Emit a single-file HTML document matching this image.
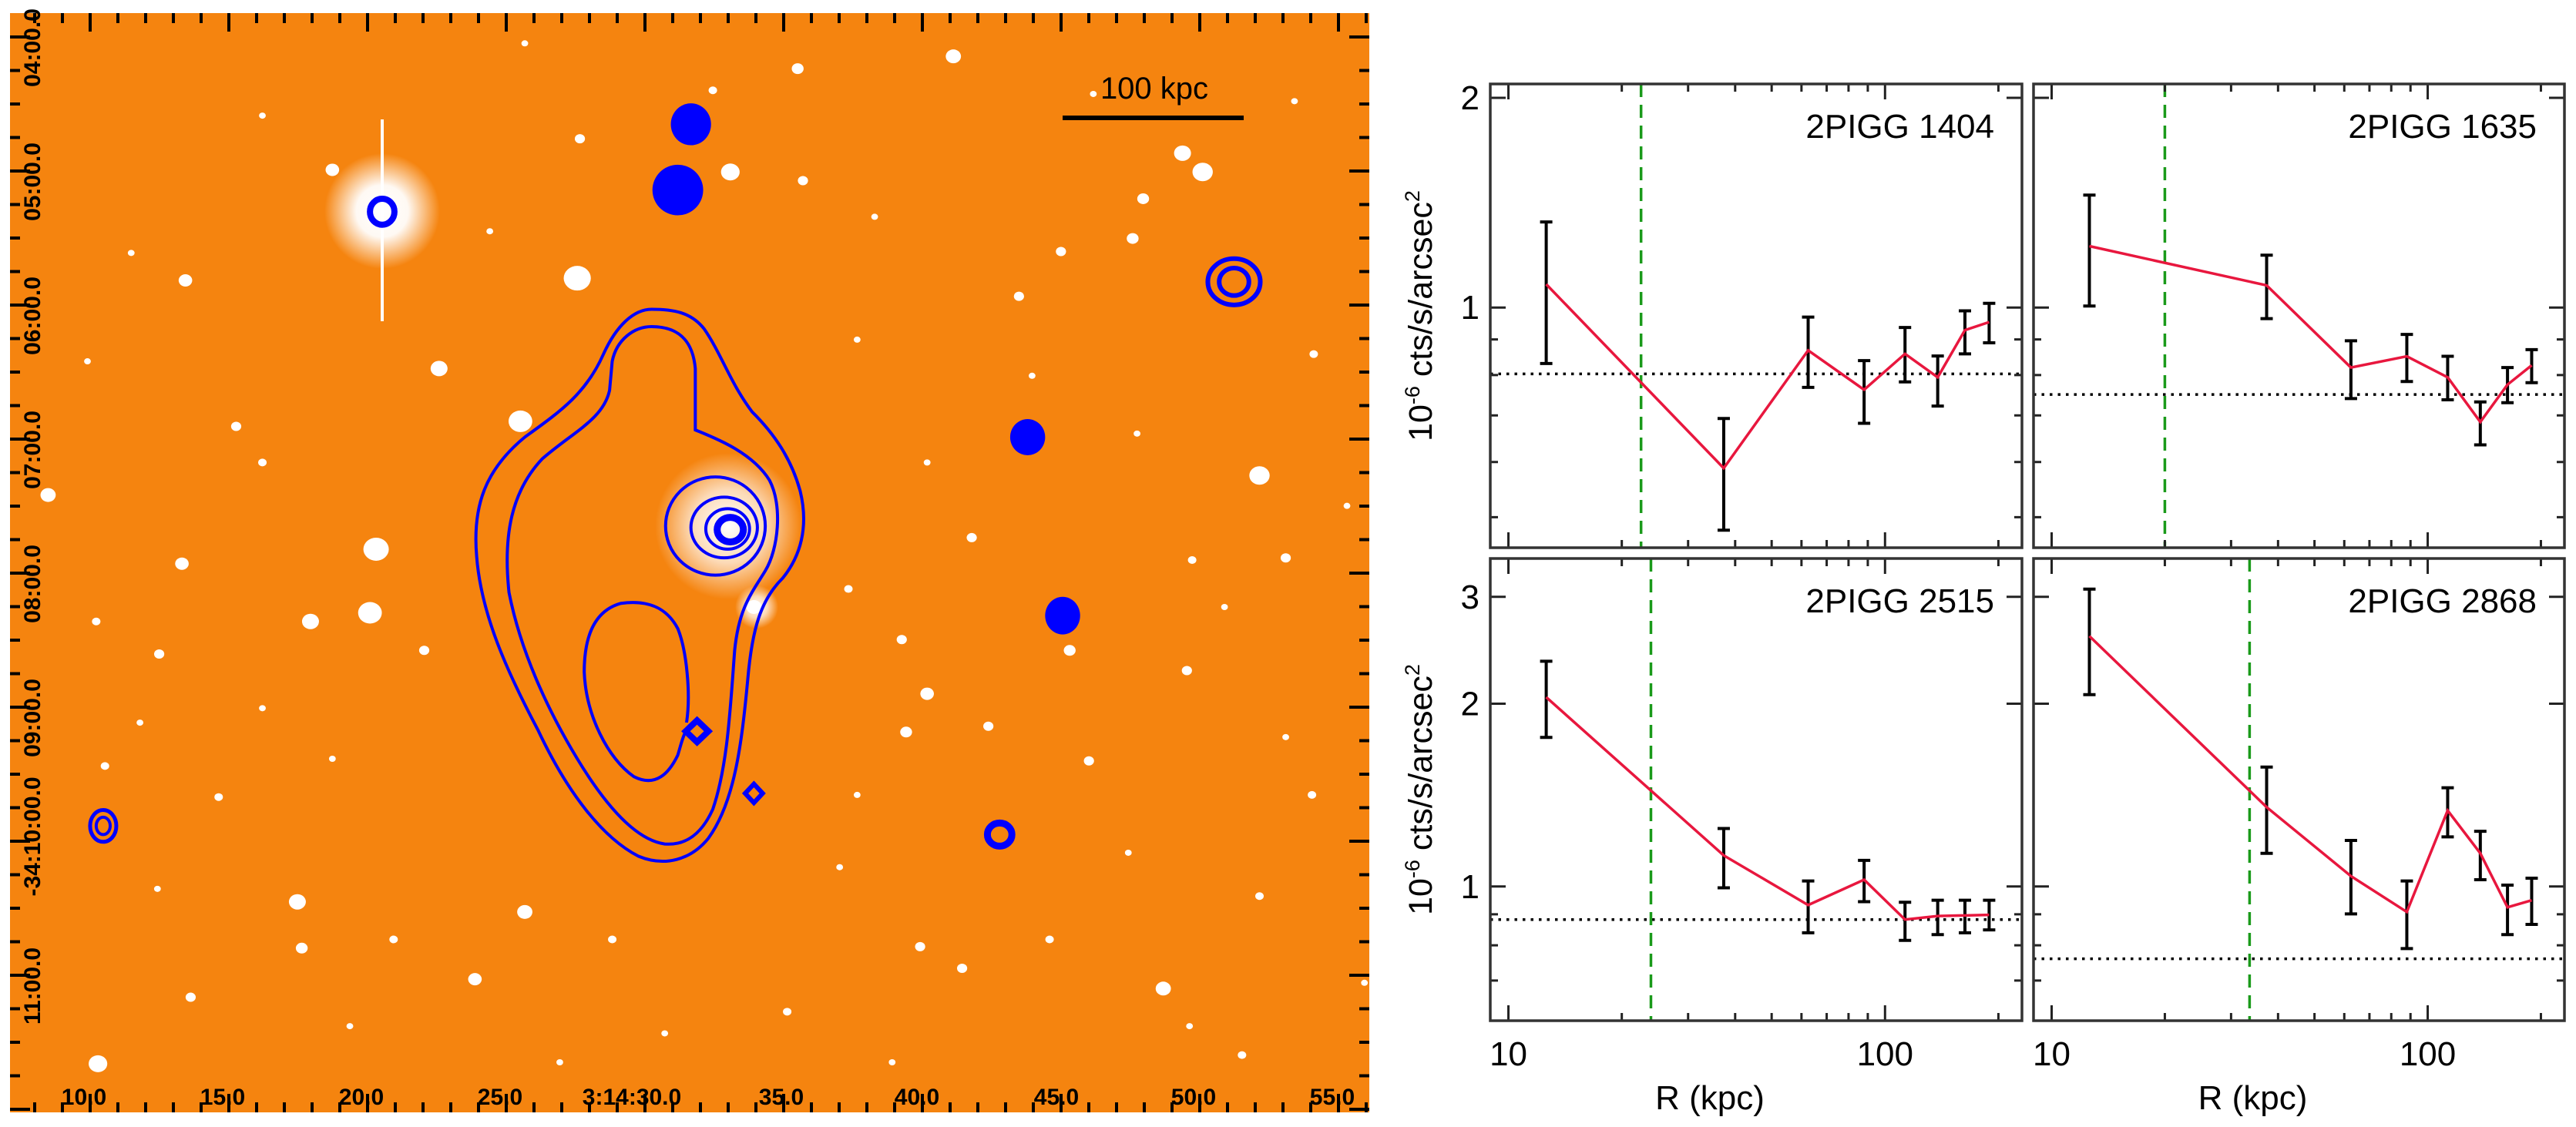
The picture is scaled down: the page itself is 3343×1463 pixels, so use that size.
<!DOCTYPE html>
<html><head><meta charset="utf-8"><style>
html,body{margin:0;padding:0;background:#fff;}
svg{display:block;font-family:"Liberation Sans",sans-serif;}
</style></head><body>
<svg id="fig" width="3343" height="1463" viewBox="0 0 3343 1463" xmlns="http://www.w3.org/2000/svg">
<defs>
<radialGradient id="glow"><stop offset="0" stop-color="#fff" stop-opacity="1"/><stop offset="0.45" stop-color="#fff" stop-opacity="0.95"/><stop offset="1" stop-color="#fff" stop-opacity="0"/></radialGradient>
<radialGradient id="glow2"><stop offset="0" stop-color="#fff" stop-opacity="1"/><stop offset="0.5" stop-color="#fff" stop-opacity="0.7"/><stop offset="1" stop-color="#fff" stop-opacity="0"/></radialGradient>
</defs>
<g>
<rect x="13" y="17" width="1764" height="1427" fill="#f5840f"/>
<g id="stars"></g>
<g>
<circle cx="496" cy="274" r="75" fill="url(#glow)"/>
<rect x="494" y="155" width="4" height="262" fill="#fff"/>
<circle cx="945" cy="683" r="95" fill="url(#glow2)"/>
<circle cx="982" cy="788" r="28" fill="url(#glow2)"/>
</g>
<g transform="scale(1.135,0.938)" fill="none" stroke="#0000ff" stroke-width="4">
<path vector-effect="non-scaling-stroke" d="M745,428 C770,428 790,432 805,455 C825,490 835,530 860,570 C885,600 905,635 915,680 C925,730 915,770 895,800 C870,830 860,870 855,940 C848,1030 840,1110 810,1160 C790,1190 760,1200 730,1185 C690,1160 650,1100 615,1010 C580,930 550,850 545,770 C540,700 555,650 600,605 C640,570 670,545 690,490 C705,450 725,428 745,428 Z"/>
<path vector-effect="non-scaling-stroke" d="M745,452 C775,452 792,470 795,510 L795,595 C815,605 860,625 880,665 C895,700 890,760 875,790 C860,820 845,840 840,900 C835,980 832,1060 815,1120 C800,1160 780,1170 760,1168 C725,1162 690,1110 660,1050 C625,980 595,900 582,820 C575,740 585,680 620,635 C655,598 690,580 697,540 L700,500 C705,470 725,452 745,452 Z"/>
<path vector-effect="non-scaling-stroke" d="M785,1000 C790,960 785,900 775,870 C762,840 740,830 710,835 C680,845 668,880 668,930 C670,990 695,1050 725,1075 C750,1090 765,1070 775,1045 C780,1025 782,1010 792,1000"/>
<ellipse vector-effect="non-scaling-stroke" cx="818" cy="728" rx="57" ry="68"/>
<ellipse vector-effect="non-scaling-stroke" cx="828" cy="730" rx="38" ry="42"/>
<ellipse vector-effect="non-scaling-stroke" cx="832" cy="732" rx="25" ry="28"/>
<ellipse vector-effect="non-scaling-stroke" cx="835" cy="733" rx="15" ry="17" stroke-width="9"/>
<ellipse vector-effect="non-scaling-stroke" cx="437" cy="293" rx="14" ry="18" stroke-width="8"/>
<ellipse vector-effect="non-scaling-stroke" cx="1411" cy="390" rx="30" ry="32" stroke-width="6"/>
<ellipse vector-effect="non-scaling-stroke" cx="1411" cy="390" rx="17" ry="19" stroke-width="6"/>
<ellipse vector-effect="non-scaling-stroke" cx="118" cy="1143" rx="15" ry="22" stroke-width="5"/>
<ellipse vector-effect="non-scaling-stroke" cx="118" cy="1143" rx="8" ry="12" stroke-width="4"/>
<ellipse vector-effect="non-scaling-stroke" cx="1143" cy="1155" rx="14" ry="16" stroke-width="9"/>
<path vector-effect="non-scaling-stroke" stroke-width="6" d="M862,1085 L872,1098 L862,1111 L852,1098 Z"/>
<path vector-effect="non-scaling-stroke" stroke-width="8" d="M797,997 L810,1012 L797,1027 L784,1012 Z"/>
</g>
<g transform="scale(1.135,0.938)" fill="#0000ff">
<ellipse cx="790" cy="172" rx="23" ry="29"/>
<ellipse cx="775" cy="263" rx="29" ry="35"/>
<ellipse cx="1175" cy="605" rx="20" ry="25"/>
<ellipse cx="1215" cy="852" rx="20" ry="26"/>
</g>
<g id="imgaxes"></g>
<g>
<line x1="1379" y1="153" x2="1614" y2="153" stroke="#000" stroke-width="6"/>
<text x="1498" y="128" font-size="40" text-anchor="middle" fill="#000">100 kpc</text>
</g>
</g>
<g id="charts"></g>
</svg>
<script>
// ---- chart data ----
const radiusKpc = [12.6, 37.3, 62.5, 88, 113, 138, 163, 189];
const panelNames = ["2PIGG 1404", "2PIGG 1635", "2PIGG 2515", "2PIGG 2868"];
const sb1404 = [1.08, 0.588, 0.868, 0.762, 0.858, 0.794, 0.928, 0.953];
const hi1404 = [1.327, 0.693, 0.969, 0.839, 0.936, 0.852, 0.989, 1.014];
const lo1404 = [0.831, 0.479, 0.768, 0.682, 0.782, 0.722, 0.858, 0.890];
const sb1635 = [1.225, 1.076, 0.820, 0.851, 0.794, 0.685, 0.775, 0.826];
const hi1635 = [1.450, 1.189, 0.896, 0.915, 0.851, 0.732, 0.820, 0.870];
const lo1635 = [1.005, 0.964, 0.740, 0.783, 0.737, 0.635, 0.730, 0.780];
const sb2515 = [2.05, 1.125, 0.932, 1.026, 0.882, 0.894, 0.896, 0.898];
const hi2515 = [2.35, 1.246, 1.021, 1.104, 0.942, 0.949, 0.949, 0.949];
const lo2515 = [1.76, 0.995, 0.839, 0.944, 0.815, 0.833, 0.839, 0.848];
const sb2868 = [2.585, 1.351, 1.040, 0.908, 1.334, 1.134, 0.924, 0.949];
const hi2868 = [3.09, 1.573, 1.191, 1.021, 1.454, 1.233, 1.005, 1.032];
const lo2868 = [2.07, 1.134, 0.901, 0.790, 1.207, 1.026, 0.833, 0.866];
const backgroundLevel = [0.803, 0.750, 0.882, 0.760];
const coreRadius = [22.5, 20.0, 23.9, 33.6];
const xTickLabels = [10, 100];
const yTickTop = [1, 2];
const yTickBottom = [1, 2, 3];

const NS = "http://www.w3.org/2000/svg";
function mk(tag, attrs, parent){const e=document.createElementNS(NS,tag);for(const k in attrs)e.setAttribute(k,attrs[k]);parent.appendChild(e);return e;}
const charts = document.getElementById('charts');

const panels = [
 {x0:1934,x1:2624,y0:109,y1:711,ymin:0.452,ymax:2.094,sb:sb1404,hi:hi1404,lo:lo1404,ylab:true,xlab:false,yt:yTickTop,minors:[0.5,0.6,0.7,0.8,0.9]},
 {x0:2639,x1:3328,y0:109,y1:711,ymin:0.452,ymax:2.094,sb:sb1635,hi:hi1635,lo:lo1635,ylab:false,xlab:false,yt:yTickTop,minors:[0.5,0.6,0.7,0.8,0.9]},
 {x0:1934,x1:2624,y0:725,y1:1325,ymin:0.601,ymax:3.47,sb:sb2515,hi:hi2515,lo:lo2515,ylab:true,xlab:true,yt:yTickBottom,minors:[0.7,0.8,0.9]},
 {x0:2639,x1:3328,y0:725,y1:1325,ymin:0.601,ymax:3.47,sb:sb2868,hi:hi2868,lo:lo2868,ylab:false,xlab:true,yt:yTickBottom,minors:[0.7,0.8,0.9]}
];
const RMIN=8.95, RMAX=231;

panels.forEach((p,i)=>{
  const g = mk('g',{},charts);
  
  
  const xs = r => p.x0 + (Math.log10(r)-Math.log10(RMIN))/(Math.log10(RMAX)-Math.log10(RMIN))*(p.x1-p.x0);
  const ys = v => p.y1 - (Math.log10(v)-Math.log10(p.ymin))/(Math.log10(p.ymax)-Math.log10(p.ymin))*(p.y1-p.y0);
  const cp = 'clip'+i;
  const cl = mk('clipPath',{id:cp},g); mk('rect',{x:p.x0,y:p.y0,width:p.x1-p.x0,height:p.y1-p.y0},cl);
  const bg = mk('line',{x1:p.x0,x2:p.x1,y1:ys(backgroundLevel[i]),y2:ys(backgroundLevel[i]),stroke:'#000','stroke-width':3.5,'stroke-dasharray':'3.5 7'},g);
  
  
  const gr = mk('line',{x1:xs(coreRadius[i]),x2:xs(coreRadius[i]),y1:p.y0,y2:p.y1,stroke:'#1a9a1a','stroke-width':3.5,'stroke-dasharray':'17 10'},g);
  
  
  radiusKpc.forEach((r,j)=>{
    const x=xs(r);
    const eb = mk('path',{d:`M${x},${ys(p.hi[j])}V${ys(p.lo[j])}M${x-8},${ys(p.hi[j])}H${x+8}M${x-8},${ys(p.lo[j])}H${x+8}`,stroke:'#000','stroke-width':4,fill:'none'},g);
    
    
  });
  const pl = mk('polyline',{points:radiusKpc.map((r,j)=>xs(r)+','+ys(p.sb[j])).join(' '),fill:'none',stroke:'#e8173e','stroke-width':3.5,'clip-path':`url(#${cp})`},g);
  
  
  let d='';
  for(let dec=10; dec<=100; dec*=10){
    for(let m=1;m<10;m++){const r=dec*m; if(r<RMIN||r>RMAX) continue; const x=xs(r); const L=(m===1)?20:10;
      d+=`M${x},${p.y1}v${-L}M${x},${p.y0}v${L}`;}
  }
  p.yt.forEach(v=>{const y=ys(v); d+=`M${p.x0},${y}h20M${p.x1},${y}h-20`;});
  p.minors.forEach(v=>{const y=ys(v); d+=`M${p.x0},${y}h10M${p.x1},${y}h-10`;});
  mk('path',{d:d,stroke:'#222','stroke-width':3,fill:'none'},g);
  const fr = mk('rect',{x:p.x0,y:p.y0,width:p.x1-p.x0,height:p.y1-p.y0,fill:'none',stroke:'#333','stroke-width':3.5},g);
  
  
  const tt = mk('text',{x:p.x1-36,y:p.y0+70,'font-size':44,'text-anchor':'end',fill:'#000'},g);
  tt.textContent = panelNames[i];
  
  
  if(p.ylab){
    p.yt.forEach(v=>{const t=mk('text',{x:p.x0-14,y:ys(v)+15,'font-size':44,'text-anchor':'end',fill:'#000'},g); t.textContent=v;
      
      });
    const cy=(p.y0+p.y1)/2;
    const yt = mk('text',{x:0,y:0,'font-size':43,'text-anchor':'middle',fill:'#000',transform:`translate(1858,${cy}) rotate(-90)`},g);
    yt.innerHTML = '10<tspan dy="-16" font-size="27">-6</tspan><tspan dy="16"> cts/s/arcsec</tspan><tspan dy="-16" font-size="27">2</tspan>';
    
    
  }
  if(p.xlab){
    xTickLabels.forEach(v=>{const t=mk('text',{x:xs(v),y:1383,'font-size':44,'text-anchor':'middle',fill:'#000'},g); t.textContent=v;
      
      });
    const xt = mk('text',{x:(p.x0+p.x1)/2 - 60,y:1440,'font-size':44,'text-anchor':'middle',fill:'#000'},g);
    xt.textContent='R (kpc)';
    
    
  }
});

const starList = [[1090,78,9],[912,95,7],[815,125,5],[835,238,11],[380,235,8],[918,250,6],[1352,212,10],[1375,238,12],[1307,275,7],[1295,330,7],[660,385,16],[212,388,8],[1165,410,6],[502,510,10],[595,583,14],[1440,658,12],[55,685,9],[430,760,15],[208,780,8],[355,860,10],[423,848,14],[182,905,6],[1060,960,8],[1036,1013,7],[1245,1053,6],[1357,928,6],[340,1248,10],[600,1262,9],[345,1312,7],[1052,1310,6],[1330,1368,9],[543,1355,8],[112,1472,11],[1223,900,7],[862,840,9],[1470,772,6],[1213,348,6],[1502,490,5],[1111,744,6],[1363,775,5],[970,815,5],[1031,885,6],[485,900,6],[1130,1005,6],[450,1300,5],[1440,1240,5],[250,1103,5],[218,1380,6],[1100,1340,6],[663,192,6],[150,350,4],[270,590,6],[300,640,5],[110,860,5],[120,1060,5],[700,1300,5],[900,1400,5],[1200,1300,5],[1500,1100,5],[1420,1460,5],[960,1200,4],[1300,600,4],[1000,300,4],[1250,130,4],[100,500,4],[160,1000,4],[1560,1360,4],[1360,1420,4],[1020,1470,4],[760,1430,4],[640,1470,4],[400,1420,4],[180,1230,4],[300,980,4],[380,1050,4],[980,1100,4],[1290,1180,4],[1470,1020,4],[1540,700,4],[1400,840,4],[1180,520,4],[1060,640,4],[980,470,4],[560,320,4],[300,160,4],[600,60,4],[1480,140,4]];
const starsG = document.getElementById('stars');
starList.forEach(s=>{
  const c = mk('ellipse',{cx:s[0]/0.881,cy:s[1]/1.066,rx:s[2]*1.1,ry:s[2],fill:'#fff'},starsG);
  
  
});

const ax = document.getElementById('imgaxes');
let td='';
for(let k=0;k<50;k++){const x=117+36*(k-3); if(x<15||x>1775) continue; const L=((k-3)%5===0)?24:13; td+=`M${x},1444v${-L}M${x},17v${L}`;}
for(let k=0;k<45;k++){const y=48+43.5*(k-1); if(y<19||y>1442) continue; const L=((k-1)%4===0)?26:13; td+=`M13,${y}h${L}M1777,${y}h${-L}`;}
mk('path',{d:td,stroke:'#000','stroke-width':4,fill:'none'},ax);
const raLabels = ["10.0","15.0","20.0","25.0","3:14:30.0","35.0","40.0","45.0","50.0","55.0"];
const raX = [109,289,469,649,820,1014,1190,1371,1549,1729];
raLabels.forEach((s,k)=>{const t=mk('text',{x:raX[k],y:1434,'font-size':30,'font-weight':'bold','text-anchor':'middle',fill:'#000'},ax); t.textContent=s;
  
  });
const decLabels = ["04:00.0","05:00.0","06:00.0","07:00.0","08:00.0","09:00.0","-34:10:00.0","11:00.0"];
decLabels.forEach((s,k)=>{const y=62+174*k + (k===6?-20:0); const t=mk('text',{x:0,y:0,'font-size':30,'font-weight':'bold','text-anchor':'middle',fill:'#000',transform:`translate(52,${y}) rotate(-90)`},ax); t.textContent=s;
  
  });
</script>
</body></html>
